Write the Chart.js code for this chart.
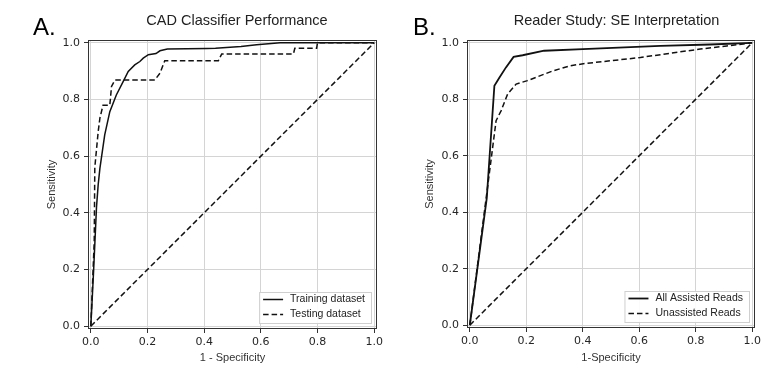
<!DOCTYPE html>
<html>
<head>
<meta charset="utf-8">
<script src="https://cdn.jsdelivr.net/npm/chart.js@4.4.1/dist/chart.umd.min.js"></script>
<style>
  body { margin: 0; background: #fff; }
  #wrap { position: relative; width: 775px; height: 374px; }
  canvas { position: absolute; top: 0; }
</style>
</head>
<body>
<div id="wrap">
  <canvas id="rocA" width="387" height="374" style="left:0"></canvas>
  <canvas id="rocB" width="388" height="374" style="left:387px"></canvas>
</div>
<script>
// ---- data ----
const tickVals = [0, 0.2, 0.4, 0.6, 0.8, 1.0];

// A. CAD classifier
const trainFpr = [0, 0.01, 0.02, 0.026, 0.032, 0.049, 0.067, 0.09, 0.114, 0.132, 0.155, 0.173, 0.185, 0.203, 0.23, 0.244, 0.27, 0.41, 0.44, 0.53, 0.585, 0.668, 1.0];
const trainTpr = [0, 0.2, 0.42, 0.5, 0.557, 0.675, 0.757, 0.816, 0.863, 0.899, 0.922, 0.934, 0.946, 0.958, 0.962, 0.972, 0.978, 0.98, 0.981, 0.987, 0.993, 1.0, 1.0];
const testFpr = [0, 0.012, 0.014, 0.026, 0.032, 0.043, 0.067, 0.073, 0.085, 0.226, 0.244, 0.261, 0.45, 0.462, 0.715, 0.72, 0.797, 0.8, 1.0];
const testTpr = [0, 0.3, 0.56, 0.687, 0.734, 0.78, 0.78, 0.846, 0.869, 0.869, 0.893, 0.937, 0.937, 0.961, 0.961, 0.981, 0.981, 1.0, 1.0];

// B. reader study
const assistFpr = [0, 0.06, 0.087, 0.105, 0.128, 0.155, 0.187, 0.263, 0.4, 0.675, 0.85, 1.0];
const assistTpr = [0, 0.45, 0.848, 0.877, 0.913, 0.95, 0.956, 0.972, 0.978, 0.989, 0.994, 1.0];
const unassistFpr = [0, 0.093, 0.111, 0.134, 0.164, 0.204, 0.292, 0.357, 0.41, 0.604, 0.816, 0.91, 1.0];
const unassistTpr = [0, 0.724, 0.76, 0.819, 0.854, 0.866, 0.9, 0.919, 0.927, 0.948, 0.978, 0.989, 1.0];

// chance line
const chanceFpr = [0, 1];
const chanceTpr = [0, 1];

const pts = (xs, ys) => xs.map((x, i) => ({ x: x, y: ys[i] }));
const DASH = [5.5, 3];

// frame, panel letter, title and boxed legend
const decor = {
  id: "decor",
  afterDraw(chart, args, o) {
    const ctx = chart.ctx;
    const a = chart.chartArea;
    ctx.save();
    // frame
    ctx.strokeStyle = "#333";
    ctx.lineWidth = 1;
    ctx.strokeRect(a.left + 0.5, a.top + 0.5, a.right - a.left - 1, a.bottom - a.top - 1);

    // panel letter
    ctx.fillStyle = "#000";
    ctx.font = "24px 'Liberation Sans', Arial, sans-serif";
    ctx.textBaseline = "alphabetic";
    ctx.textAlign = "left";
    ctx.fillText(o.letter, o.letterX, 35);

    // title
    ctx.fillStyle = "#222";
    ctx.font = "14.5px 'Liberation Sans', Arial, sans-serif";
    ctx.textAlign = "center";
    ctx.textBaseline = "middle";
    ctx.fillText(o.title, o.titleX, 21);

    // legend
    const sets = chart.data.datasets.filter(d => d.inLegend);
    ctx.font = "10.5px 'Liberation Sans', Arial, sans-serif";
    let tw = 0;
    sets.forEach(d => { tw = Math.max(tw, ctx.measureText(d.label).width); });
    const bw = 4 + 20 + 7 + tw + 6, bh = 31;
    const bx = a.right - 6 - bw, by = a.bottom - 6 - bh;
    ctx.fillStyle = "rgba(255,255,255,0.9)";
    ctx.fillRect(bx, by, bw, bh);
    ctx.strokeStyle = "#cfcfcf";
    ctx.strokeRect(bx + 0.5, by + 0.5, bw, bh);
    sets.forEach((d, i) => {
      const y = by + 7.5 + i * 15;
      ctx.beginPath();
      ctx.setLineDash(d.borderDash || []);
      ctx.strokeStyle = d.borderColor;
      ctx.lineWidth = d.borderWidth;
      ctx.moveTo(bx + 4, y);
      ctx.lineTo(bx + 24, y);
      ctx.stroke();
      ctx.setLineDash([]);
      ctx.fillStyle = "#222";
      ctx.textAlign = "left";
      ctx.textBaseline = "middle";
      ctx.fillText(d.label, bx + 31, y);
    });
    ctx.restore();
  }
};

function makeRoc(id, sets, cfg) {
  return new Chart(document.getElementById(id), {
    type: "scatter",
    data: {
      datasets: sets.map(s => ({
        label: s.label,
        data: s.data,
        inLegend: s.inLegend,
        showLine: true,
        borderColor: "#111",
        borderWidth: s.width || 1.5,
        borderDash: s.dash || [],
        pointRadius: 0,
        tension: 0,
        fill: false
      }))
    },
    options: {
      responsive: false,
      animation: false,
      devicePixelRatio: 1,
      layout: { padding: { left: 0, top: 40, right: cfg.padRight, bottom: 0 } },
      plugins: {
        legend: { display: false },
        tooltip: { enabled: false },
        decor: { letter: cfg.letter, letterX: cfg.letterX, title: cfg.title, titleX: cfg.titleX }
      },
      scales: {
        x: {
          type: "linear",
          min: -0.01,
          max: 1.01,
          afterBuildTicks: ax => { ax.ticks = tickVals.map(v => ({ value: v })); },
          afterFit: ax => { ax.height = cfg.xHeight; },
          ticks: {
            callback: v => v.toFixed(1),
            color: "#262626",
            padding: 3,
            maxRotation: 0,
            font: { family: "'DejaVu Sans'", size: 11 }
          },
          grid: { color: "#d4d4d4", lineWidth: 1, tickLength: 4, tickColor: "#333" },
          border: { display: false },
          title: {
            display: true,
            text: cfg.xTitle,
            color: "#333",
            font: { family: "'Liberation Sans', Arial", size: 11 },
            padding: { top: 0, bottom: 9.4 }
          }
        },
        y: {
          type: "linear",
          min: -0.01,
          max: 1.01,
          afterBuildTicks: ax => { ax.ticks = tickVals.map(v => ({ value: v })); },
          afterFit: ax => { ax.width = cfg.yWidth; },
          ticks: {
            callback: v => v.toFixed(1),
            color: "#262626",
            padding: 4,
            font: { family: "'DejaVu Sans'", size: 11 }
          },
          grid: { color: "#d4d4d4", lineWidth: 1, tickLength: 4, tickColor: "#333" },
          border: { display: false },
          title: {
            display: true,
            text: "Sensitivity",
            color: "#333",
            font: { family: "'Liberation Sans', Arial", size: 11 },
            padding: { top: cfg.yTitlePad, bottom: 0 }
          }
        }
      }
    },
    plugins: [decor]
  });
}

makeRoc("rocA", [
  { label: "Training dataset", data: pts(trainFpr, trainTpr), inLegend: true },
  { label: "Testing dataset", data: pts(testFpr, testTpr), inLegend: true, dash: DASH },
  { label: "Chance", data: pts(chanceFpr, chanceTpr), inLegend: false, dash: DASH }
], {
  letter: "A.", letterX: 33, title: "CAD Classifier Performance", titleX: 237,
  xTitle: "1 - Specificity", padRight: 10, yWidth: 88, xHeight: 45, yTitlePad: 45.4
});

makeRoc("rocB", [
  { label: "All Assisted Reads", data: pts(assistFpr, assistTpr), inLegend: true, width: 1.8 },
  { label: "Unassisted Reads", data: pts(unassistFpr, unassistTpr), inLegend: true, dash: DASH },
  { label: "Chance", data: pts(chanceFpr, chanceTpr), inLegend: false, dash: DASH }
], {
  letter: "B.", letterX: 26, title: "Reader Study: SE Interpretation", titleX: 229.5,
  xTitle: "1-Specificity", padRight: 20, yWidth: 80, xHeight: 46, yTitlePad: 36.4
});
</script>
</body>
</html>
